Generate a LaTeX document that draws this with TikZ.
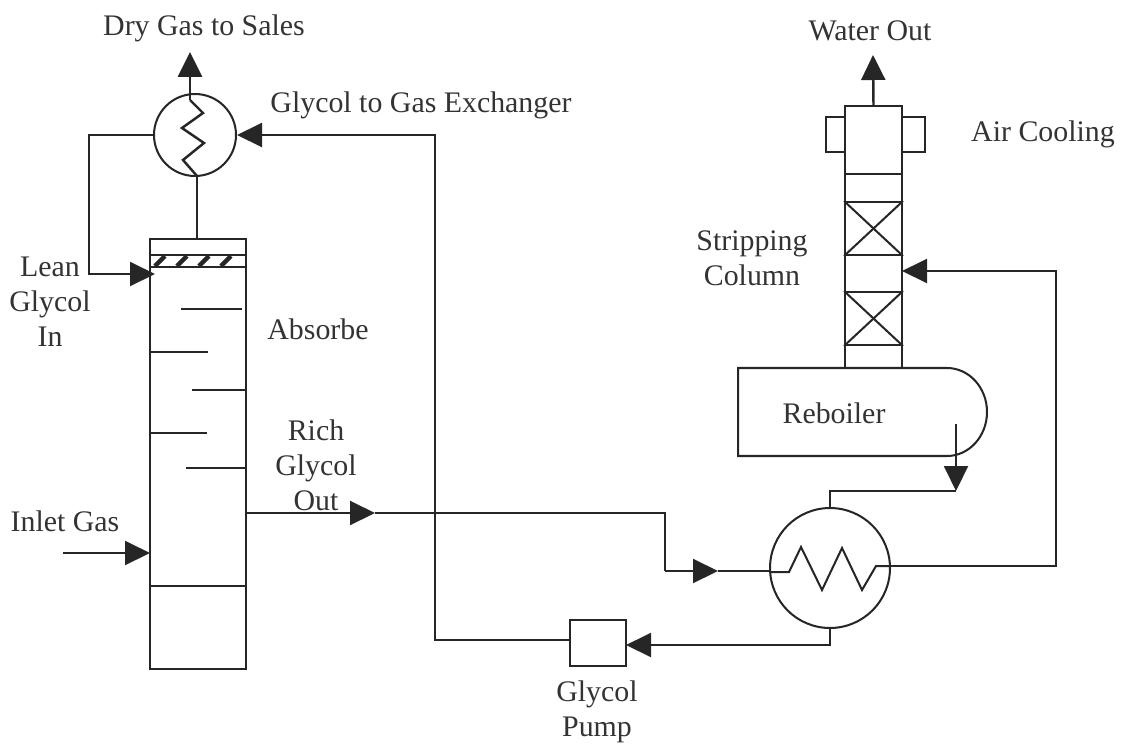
\documentclass[tikz,border=0pt]{standalone}
\usepackage{fontspec}
\setmainfont{Liberation Serif}
\usetikzlibrary{arrows.meta,positioning}

\begin{document}
\begin{tikzpicture}[x=0.02cm,y=-0.02cm,line width=1.15pt,color=black!85,
  font=\fontsize{17}{20}\selectfont,
  flow/.style={-{Triangle[length=0.5cm,width=0.48cm]}},
  label/.style={inner sep=0pt,align=center,text=black!80}]
\useasboundingbox (0,0) rectangle (1125,744);

% equipment
\node[draw, circle, minimum size=1.64cm, inner sep=0pt] (gasex) at (195,135) {};
\node[draw, minimum width=1.92cm, minimum height=8.6cm, inner sep=0pt] (absorber) at (198,454) {};
\node[draw, minimum width=1.92cm, minimum height=0.24cm, inner sep=0pt] (hatch) at (198,261) {};
\node[draw, circle, minimum size=2.4cm, inner sep=0pt] (richex) at (830,568) {};
\node[draw, minimum width=1.12cm, minimum height=0.92cm, inner sep=0pt] (pump) at (598,643) {};
\node[draw, minimum width=1.14cm, minimum height=5.24cm, inner sep=0pt] (column) at (873.5,237) {};
\node[draw, minimum width=1.14cm, minimum height=1.06cm, inner sep=0pt] (packtop) at (873.5,228.5) {};
\node[draw, minimum width=1.14cm, minimum height=1.06cm, inner sep=0pt] (packlow) at (873.5,318.5) {};
\node[draw, minimum width=0.38cm, minimum height=0.7cm, inner sep=0pt] (coolleft) at (835.5,134.5) {};
\node[draw, minimum width=0.46cm, minimum height=0.7cm, inner sep=0pt] (coolright) at (913.5,134.5) {};

% inside the equipment
\draw (column.north west |- 0,174) -- (column.north east |- 0,174);
\draw (packtop.north west) -- (packtop.south east);
\draw (packtop.north east) -- (packtop.south west);
\draw (packlow.north west) -- (packlow.south east);
\draw (packlow.north east) -- (packlow.south west);
\foreach \x in {160,182,204,226}
  \draw[line width=2.6pt] (\x-5,266) -- (\x+5,256);
\foreach \xa/\xb/\y in {181/242/309, 150/208/352, 192/246/390, 150/207/433, 186/246/468, 150/246/586}
  \draw (\xa,\y) -- (\xb,\y);
\draw[line width=1.4pt] (190,100) -- (203,113) -- (182,128) -- (204,143) -- (183,160) -- (197,176);
\draw (770,572) -- (789,572) -- (801,547) -- (822,590) -- (842,548) -- (862,590) -- (876,566) -- (890,566);

% reboiler
\draw (738,368) -- (947,368) arc[start angle=90,end angle=-90,x radius=0.8cm,y radius=0.88cm] -- (738,456) -- cycle;

% free ends of the lines
\coordinate (drygas) at (190,52);
\coordinate (gastop) at (190,100);
\coordinate (leanin) at (155,274);
\coordinate (absout) at (197,239);
\coordinate (inlet) at (63,553);
\coordinate (inletin) at (150,553);
\coordinate (richout) at (246,513);
\coordinate (richmid) at (375,513);
\coordinate (richin) at (718,571);
\coordinate (exin) at (771,571);
\coordinate (pumpin) at (570,640);
\coordinate (pumpout) at (626,645);
\coordinate (waterout) at (873,55);
\coordinate (feedin) at (902,271);
\coordinate (rebout) at (956,424);
\coordinate (rebdown) at (956,491);
\coordinate (exout) at (890,566);

% lines
\draw[flow, line width=1.6pt] (gastop) -- (drygas);
\draw[line width=1.6pt] (gasex.south) ++(2,0) -- (absout);
\draw[flow] (gasex.west) -- (89,135) -- (89,274) -- (leanin);
\draw[flow] (pumpin) -- (435,640) -- (435,135) -- (gasex.east);
\draw[flow] (inlet) -- (inletin);
\draw[flow] (richout) -- (richmid);
\draw (richmid) -- (665,513) -- (665,571);
\draw[flow] (665,571) -- (richin);
\draw (richin) -- (exin);
\draw[flow] (richex.south) -- (830,645) -- (pumpout);
\draw[flow] (exout) -- (1056,566) -- (1056,271) -- (feedin);
\draw[flow] (rebout) -- (rebdown);
\draw[line width=1.4pt] (rebdown) -- (830,491) -- (richex.north);
\draw[flow, line width=1.4pt] (column.north) -- (waterout);

% labels
\node[label] (drylabel) at (204,28) {Dry Gas to Sales};
\node[label] (exlabel) at (421,105) {Glycol to Gas Exchanger};
\node[label] (leanlabel) at (50,302) {Lean\\Glycol\\In};
\node[label] (abslabel) at (318,329) {Absorbe};
\node[label] (richlabel) at (316,465) {Rich\\Glycol\\Out};
\node[label] (inletlabel) at (65,521) {Inlet Gas};
\node[label] (waterlabel) at (870,31) {Water Out};
\node[label] (airlabel) at (1043,134) {Air Cooling};
\node[label] (striplabel) at (752,258) {Stripping\\Column};
\node[label] (reblabel) at (834,413) {Reboiler};
\node[label] (pumplabel) at (597,712) {Glycol\\Pump};
\end{tikzpicture}
\end{document}
